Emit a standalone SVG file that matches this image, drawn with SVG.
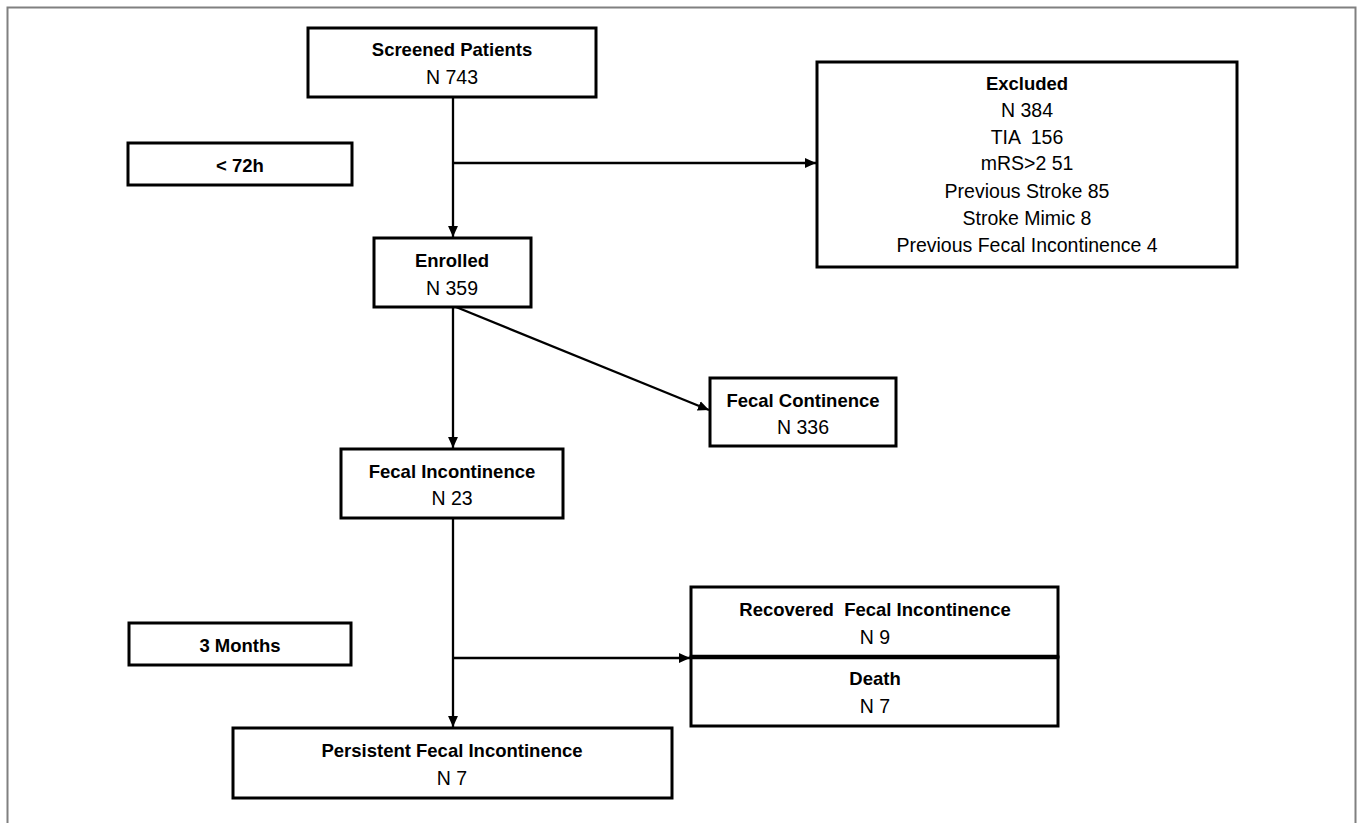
<svg xmlns="http://www.w3.org/2000/svg" width="1357" height="823" viewBox="0 0 1357 823">
<style>
.box{fill:#fff;stroke:#000;stroke-width:3}
.t{font-family:"Liberation Sans",Arial,sans-serif;font-size:19.5px;fill:#000;text-anchor:middle}
.b{font-weight:bold;font-size:18.5px}
.c{fill:none;stroke:#000;stroke-width:2.3}
</style>
<defs>
<marker id="ah" viewBox="0 0 10 10" refX="10" refY="5" markerWidth="11" markerHeight="11" markerUnits="userSpaceOnUse" orient="auto">
<path d="M0,0.5 L10,5 L0,9.5 Z" fill="#000"/>
</marker>
</defs>
<rect width="1357" height="823" fill="#fff"/>
<path d="M7.5,823 V7.5 H1355.5 V823" fill="none" stroke="#808080" stroke-width="2"/>
<g id="connectors">
<path class="c" d="M453,97 V237" marker-end="url(#ah)"/>
<path class="c" d="M453,163 H816" marker-end="url(#ah)"/>
<path class="c" d="M453,307 V448" marker-end="url(#ah)"/>
<path class="c" d="M456,307 L709,410" stroke-width="3.2" marker-end="url(#ah)"/>
<path class="c" d="M453,518 V727" marker-end="url(#ah)"/>
<path class="c" d="M453,658 H690" marker-end="url(#ah)"/>
</g>
<g id="screened">
<rect class="box" x="308" y="28" width="288" height="69"/>
<text class="t b" x="452" y="56">Screened Patients</text>
<text class="t" x="452" y="84">N 743</text>
</g>
<g id="lt72h">
<rect class="box" x="128" y="143" width="224" height="42"/>
<text class="t b" x="240" y="172">&lt; 72h</text>
</g>
<g id="excluded">
<rect class="box" x="817" y="62" width="420" height="205"/>
<text class="t b" x="1027" y="90">Excluded</text>
<text class="t" x="1027" y="117">N 384</text>
<text class="t" x="1027" y="144" xml:space="preserve">TIA  156</text>
<text class="t" x="1027" y="170">mRS&gt;2 51</text>
<text class="t" x="1027" y="198">Previous Stroke 85</text>
<text class="t" x="1027" y="225">Stroke Mimic 8</text>
<text class="t" x="1027" y="252">Previous Fecal Incontinence 4</text>
</g>
<g id="enrolled">
<rect class="box" x="374" y="238" width="157" height="69"/>
<text class="t b" x="452" y="267">Enrolled</text>
<text class="t" x="452" y="295">N 359</text>
</g>
<g id="continence">
<rect class="box" x="710" y="378" width="186" height="68"/>
<text class="t b" x="803" y="407">Fecal Continence</text>
<text class="t" x="803" y="434">N 336</text>
</g>
<g id="incontinence">
<rect class="box" x="341" y="449" width="222" height="69"/>
<text class="t b" x="452" y="478">Fecal Incontinence</text>
<text class="t" x="452" y="505">N 23</text>
</g>
<g id="months3">
<rect class="box" x="129" y="623" width="222" height="42"/>
<text class="t b" x="240" y="652">3 Months</text>
</g>
<g id="recovered">
<rect class="box" x="691" y="587" width="367" height="70"/>
<text class="t b" x="875" y="616" xml:space="preserve">Recovered  Fecal Incontinence</text>
<text class="t" x="875" y="644">N 9</text>
</g>
<g id="death">
<rect class="box" x="691" y="657" width="367" height="69"/>
<line x1="691" y1="657" x2="1058" y2="657" stroke="#000" stroke-width="4.5"/>
<text class="t b" x="875" y="685">Death</text>
<text class="t" x="875" y="713">N 7</text>
</g>
<g id="persistent">
<rect class="box" x="233" y="728" width="439" height="70"/>
<text class="t b" x="452" y="757">Persistent Fecal Incontinence</text>
<text class="t" x="452" y="785">N 7</text>
</g>
</svg>
